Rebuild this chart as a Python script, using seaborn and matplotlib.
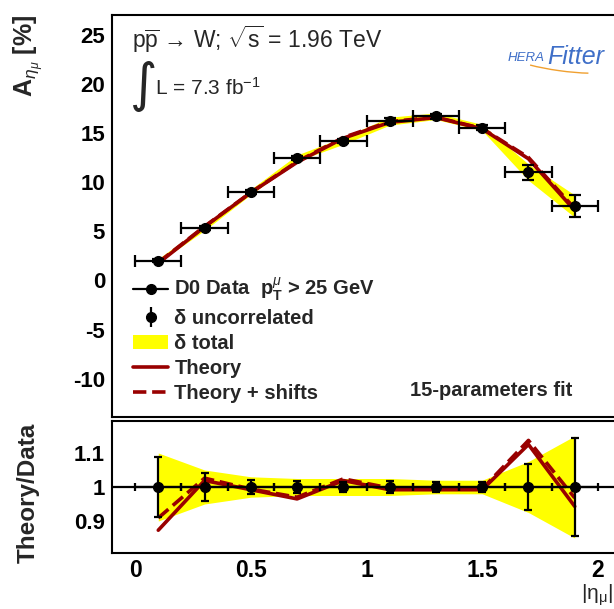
import numpy as np
import pandas as pd
import seaborn as sns
import matplotlib.pyplot as plt
from matplotlib.lines import Line2D
from matplotlib.patches import Patch, Arc
from matplotlib.ticker import MultipleLocator

sns.set_style("white")
plt.rcParams["font.family"] = ["Liberation Sans", "DejaVu Sans"]
plt.rcParams["mathtext.fontset"] = "custom"
plt.rcParams["mathtext.rm"] = "Liberation Sans"
plt.rcParams["mathtext.it"] = "Liberation Sans:italic"
plt.rcParams["mathtext.bf"] = "Liberation Sans:bold"

# D0 muon charge asymmetry, |eta_mu| bins
eta = [0.1, 0.3, 0.5, 0.7, 0.9, 1.1, 1.3, 1.5, 1.7, 1.9]
eta_halfwidth = [0.1] * 10
asym = [2.0, 5.35, 9.0, 12.45, 14.2, 16.2, 16.7, 15.55, 11.0, 7.55]
# relative errors (as seen in the ratio panel)
unc_rel = [0.087, 0.042, 0.020, 0.017, 0.014, 0.017, 0.014, 0.016, 0.069, 0.144]
tot_rel = [0.100, 0.050, 0.030, 0.025, 0.025, 0.025, 0.020, 0.020, 0.075, 0.150]
# theory / data
ratio_theory = [0.873, 1.019, 0.992, 0.965, 1.019, 0.992, 0.992, 0.992, 1.125, 0.943]
ratio_shift = [0.909, 1.026, 0.994, 0.970, 1.024, 0.997, 0.994, 0.994, 1.137, 0.968]

df = pd.DataFrame({"eta": eta, "asym": asym, "unc_rel": unc_rel, "tot_rel": tot_rel,
                   "r_th": ratio_theory, "r_sh": ratio_shift})
df["unc"] = df.asym * df.unc_rel
df["tot"] = df.asym * df.tot_rel
df["theory"] = df.asym * df.r_th
df["shifts"] = df.asym * df.r_sh
df["one"] = 1.0

RED = "#990000"
YEL = "#ffff00"
FS = 14.5

fig = plt.figure(figsize=(6.14, 6.09), dpi=100)
ax1 = fig.add_axes([112 / 614, (609 - 417) / 609, (621 - 112) / 614, (417 - 15) / 609])
ax2 = fig.add_axes([112 / 614, (609 - 553) / 609, (621 - 112) / 614, (553 - 421) / 609])

# ---- top panel
ax1.fill_between(df.eta, df.asym - df.tot, df.asym + df.tot, color=YEL, lw=0, zorder=1)
sns.lineplot(data=df, x="eta", y="theory", color=RED, lw=2.6, ax=ax1, zorder=2)
sns.lineplot(data=df, x="eta", y="shifts", color=RED, lw=2.6, ls="--", ax=ax1, zorder=2)
ax1.errorbar(df.eta, df.asym, xerr=eta_halfwidth, yerr=df.unc, fmt="o", color="black",
             ms=7, elinewidth=1.6, capsize=4, capthick=1.6, zorder=3)
ax1.set_xlim(-0.1, 2.1)
ax1.set_ylim(-13.9, 27.0)
ax1.set_xlabel("")
ax1.set_ylabel("")

# ---- ratio panel
ax2.fill_between(df.eta, 1 - df.tot_rel, 1 + df.tot_rel, color=YEL, lw=0, zorder=1)
sns.lineplot(data=df, x="eta", y="r_th", color=RED, lw=2.6, ax=ax2, zorder=2)
sns.lineplot(data=df, x="eta", y="r_sh", color=RED, lw=2.6, ls="--", ax=ax2, zorder=2)
ax2.axhline(1.0, color="black", lw=1.6, zorder=3)
ax2.errorbar(df.eta, df.one, xerr=eta_halfwidth, yerr=df.unc_rel, fmt="o", color="black",
             ms=7, elinewidth=1.6, capsize=3, capthick=1.6, zorder=4)
ax2.set_xlim(-0.1, 2.1)
ax2.set_ylim(0.806, 1.194)
ax2.set_xlabel("")
ax2.set_ylabel("")

for ax in (ax1, ax2):
    for s in ax.spines.values():
        s.set_linewidth(1.5)
        s.set_color("black")
    ax.spines["right"].set_visible(False)
    ax.xaxis.set_major_locator(MultipleLocator(0.5))
    ax.xaxis.set_minor_locator(MultipleLocator(0.1))
    ax.tick_params(which="both", direction="in", colors="black", width=1.3,
                   pad=5, top=False, right=False)
    ax.tick_params(axis="x", which="major", length=7, labelsize=16.5, pad=4)
    ax.tick_params(axis="x", which="minor", length=3.5)
    ax.tick_params(axis="y", labelsize=16)

ax1.yaxis.set_major_locator(MultipleLocator(5))
ax1.yaxis.set_minor_locator(MultipleLocator(1))
ax1.tick_params(axis="y", which="major", length=11.5)
ax1.tick_params(axis="y", which="minor", length=5.8)
ax2.yaxis.set_minor_locator(MultipleLocator(0.025))
ax2.tick_params(axis="y", which="major", length=9.4)
ax2.tick_params(axis="y", which="minor", length=5)
ax2.set_yticks([0.9, 1.0, 1.1])
ax2.set_yticklabels(["0.9", "1", "1.1"], fontweight="bold")
ax2.set_xticks([0, 0.5, 1, 1.5, 2])
ax2.set_xticklabels(["0", "0.5", "1", "1.5", "2"], fontweight="bold")
ax1.set_yticks([-10, -5, 0, 5, 10, 15, 20, 25])
ax1.set_yticklabels(["-10", "-5", "0", "5", "10", "15", "20", "25"], fontweight="bold")
ax1.tick_params(axis="x", labelbottom=False)

# ---- legend
unc_handle = ax1.errorbar([np.nan], [np.nan], yerr=[1], fmt="o", color="black", ms=7,
                          elinewidth=1.6, capsize=0)
handles = [
    Line2D([], [], color="black", lw=1.6, marker="o", ms=7),
    unc_handle,
    Patch(facecolor=YEL, edgecolor="none"),
    Line2D([], [], color=RED, lw=2.6),
    Line2D([], [], color=RED, lw=2.6, ls="--"),
]
labels = [r"D0 Data  $\mathbf{p}_{\mathbf{T}}^{\mu}$ > 25 GeV", "δ uncorrelated", "δ total",
          "Theory", "Theory + shifts"]
leg = ax1.legend(handles, labels, loc="upper left", bbox_to_anchor=(123 / 614, 1 - 266 / 609),
                 bbox_transform=fig.transFigure, frameon=False, handlelength=1.75,
                 handletextpad=0.3, labelspacing=0.29, borderpad=0,
                 prop={"weight": "bold", "size": FS})

fig.text(410 / 614, 1 - 390 / 609, "15-parameters fit", fontsize=FS, fontweight="bold",
         va="center", ha="left")

# ---- annotations
fig.text(132 / 614, 1 - 39 / 609, r"p$\overline{\mathrm{p}}$ → W; $\sqrt{\mathrm{s}}$ = 1.96 TeV",
         fontsize=16.5, va="center", ha="left")
fig.text(130 / 614, 1 - 86 / 609, "∫", fontsize=38, va="center", ha="left",
         family=["DejaVu Sans"])
fig.text(155 / 614, 1 - 88 / 609, r"L = 7.3 fb$^{\mathrm{-1}}$", fontsize=15,
         va="center", ha="left")

# HERAFitter logo (approximate)
fig.text(508 / 614, 1 - 58 / 609, "HERA", fontsize=9.5, style="italic", color="#3f6fc8",
         va="center", ha="left")
fig.text(547 / 614, 1 - 57 / 609, "Fitter", fontsize=18, style="italic", color="#3f6fc8",
         va="center", ha="left")
fig.add_artist(Arc((0.912, 1 - 64 / 609), 0.15, 0.022, angle=-8, theta1=190, theta2=350,
                   transform=fig.transFigure, color="#f0a030", lw=1))

# axis titles
fig.text(28 / 614, 1 - 15 / 609, r"$\mathbf{A}_{\eta_{\mu}}$ [%]", rotation=90, fontsize=18,
         fontweight="bold", va="top", ha="center")
fig.text(28 / 614, 1 - 493 / 609, "Theory/Data", rotation=90, fontsize=17.5,
         fontweight="bold", va="center", ha="center")
fig.text(597 / 614, 1 / 609, r"|η$_{\mathrm{μ}}$|", fontsize=15, va="bottom", ha="center")

fig.savefig("out.png", dpi=100)
